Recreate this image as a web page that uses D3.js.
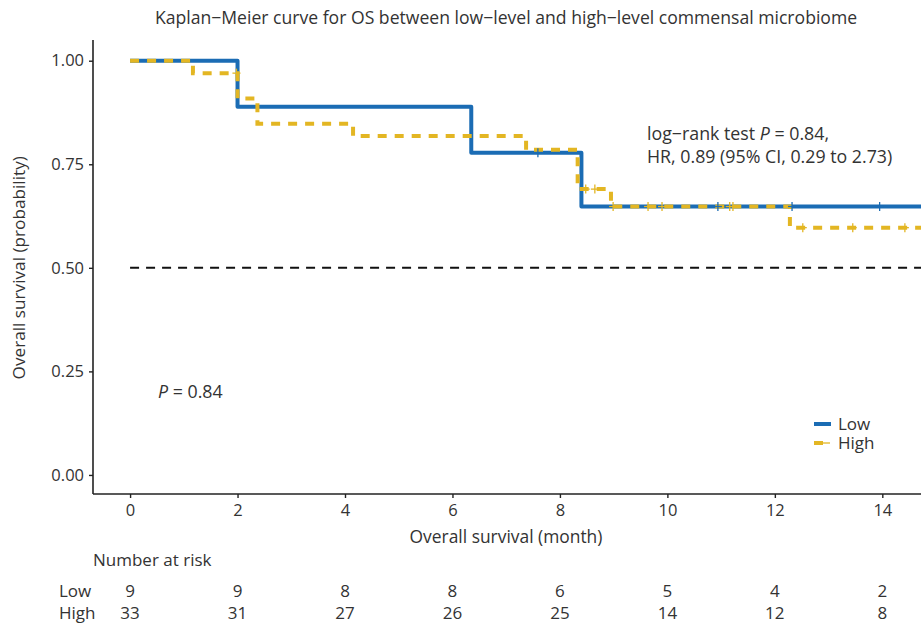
<!DOCTYPE html>
<html><head><meta charset="utf-8">
<script src="https://cdn.jsdelivr.net/npm/d3@7"></script>
<style>
body{margin:0;background:#fff;}
text{font-family:"Open Sans","Noto Sans",sans-serif;fill:#333;}
</style></head>
<body><svg id="c" width="921" height="629"></svg>
<script>
// ---- data ----
const xTicks = [0, 2, 4, 6, 8, 10, 12, 14];
const yTicks = [0, 0.25, 0.5, 0.75, 1.0];
const lowTimes = [0, 2.0, 6.35, 8.40];
const lowSurv = [1.0, 0.889, 0.778, 0.648];
const lowCensorTimes = [7.59, 10.94, 12.32, 13.95];
const highTimes = [0, 1.17, 2.0, 2.37, 4.15, 7.37, 8.33, 8.95, 12.28];
const highSurv = [1.0, 0.970, 0.909, 0.848, 0.818, 0.785, 0.690, 0.648, 0.597];
const highCensorTimes = [1.98, 8.48, 8.65, 8.99, 9.64, 9.90, 11.16, 11.22, 12.52, 13.45, 14.42];
const riskLow = [9, 9, 8, 8, 6, 5, 4, 2];
const riskHigh = [33, 31, 27, 26, 25, 14, 12, 8];
const endTime = 15;

const svg = d3.select("#c");
const L = 93, R = 921, T = 40, B = 494;
const x = d3.scaleLinear().domain([-0.69, 14.72]).range([L, R]);
const y = d3.scaleLinear().domain([-0.046, 1.05]).range([B, T]);

svg.append("defs").append("clipPath").attr("id","clip")
  .append("rect").attr("x", L).attr("y", T - 5).attr("width", R - L).attr("height", B - T + 5);

// title
svg.append("text").attr("x", 506).attr("y", 24).attr("text-anchor","middle")
  .attr("font-size", 17.6).text("Kaplan\u2212Meier curve for OS between low\u2212level and high\u2212level commensal microbiome");

// axes
const ax = svg.append("g").attr("transform", `translate(0,${B})`)
  .call(d3.axisBottom(x).tickValues(xTicks).tickSize(4).tickPadding(6));
const ay = svg.append("g").attr("transform", `translate(${L},0)`)
  .call(d3.axisLeft(y).tickValues(yTicks).tickSize(4).tickPadding(5).tickFormat(d3.format(".2f")));
[ax, ay].forEach(g => {
  g.select(".domain").attr("stroke", "#222").attr("stroke-width", 1.6);
  g.selectAll(".tick line").attr("stroke", "#222").attr("stroke-width", 1.4);
  g.selectAll(".tick text").attr("font-size", 16.5).attr("fill", "#333")
    .style("font-family", "'Open Sans','Noto Sans',sans-serif");
});
ax.select(".domain").attr("d", `M${L},0H${R}`);
ay.select(".domain").attr("d", `M0,${T}V${B}`);

// axis titles
svg.append("text").attr("x", 506).attr("y", 543).attr("text-anchor","middle")
  .attr("font-size", 17.4).text("Overall survival (month)");
svg.append("text").attr("transform", `translate(25,${(y(0)+y(1))/2}) rotate(-90)`)
  .attr("text-anchor","middle").attr("font-size", 17.2).text("Overall survival (probability)");

const plot = svg.append("g").attr("clip-path", "url(#clip)");

// median reference
plot.append("line").attr("x1", x(0)).attr("x2", R).attr("y1", y(0.5)).attr("y2", y(0.5))
  .attr("stroke", "#111").attr("stroke-width", 2).attr("stroke-dasharray", "9,7");

function stepPts(times, surv) {
  const pts = times.map((t, i) => [t, surv[i]]);
  pts.push([endTime, surv[surv.length - 1]]);
  return pts;
}
const line = d3.line().x(d => x(d[0])).y(d => y(d[1])).curve(d3.curveStepAfter);
function survAt(times, surv, t) {
  let s = surv[0];
  for (let i = 0; i < times.length; i++) if (times[i] <= t) s = surv[i];
  return s;
}

const blue = "#1b6cb4", gold = "#e3b623";
plot.append("path").datum(stepPts(lowTimes, lowSurv)).attr("d", line)
  .attr("fill","none").attr("stroke", blue).attr("stroke-width", 4).attr("stroke-linejoin","round");
plot.append("path").datum(stepPts(highTimes, highSurv)).attr("d", line)
  .attr("fill","none").attr("stroke", gold).attr("stroke-width", 4).attr("stroke-dasharray","9,8");

function censors(times, surv, ctimes, color) {
  const g = plot.append("g").attr("stroke", color).attr("stroke-width", 1.3);
  ctimes.forEach(t => {
    const cx = x(t), cy = y(survAt(times, surv, t));
    g.append("line").attr("x1", cx - 4).attr("x2", cx + 4).attr("y1", cy).attr("y2", cy);
    g.append("line").attr("x1", cx).attr("x2", cx).attr("y1", cy - 4.5).attr("y2", cy + 4.5);
  });
}
censors(lowTimes, lowSurv, lowCensorTimes, blue);
censors(highTimes, highSurv, highCensorTimes, gold);

// annotations
const a1 = svg.append("text").attr("x", 647).attr("y", 140).attr("font-size", 17.8);
a1.append("tspan").text("log\u2212rank test ");
a1.append("tspan").attr("font-style","italic").text("P");
a1.append("tspan").text(" = 0.84,");
svg.append("text").attr("x", 647).attr("y", 163).attr("font-size", 17.8)
  .text("HR, 0.89 (95% CI, 0.29 to 2.73)");
const a2 = svg.append("text").attr("x", 158).attr("y", 398).attr("font-size", 17.8);
a2.append("tspan").attr("font-style","italic").text("P");
a2.append("tspan").text(" = 0.84");

// legend
const leg = [["Low", blue, null], ["High", gold, "9,8"]];
leg.forEach((d, i) => {
  const ly = 424 + i * 19;
  svg.append("line").attr("x1", 814).attr("x2", 831).attr("y1", ly).attr("y2", ly)
    .attr("stroke", d[1]).attr("stroke-width", 4).attr("stroke-dasharray", d[2]);
  svg.append("line").attr("x1", 822).attr("x2", 830).attr("y1", ly).attr("y2", ly)
    .attr("stroke", d[1]).attr("stroke-width", 1.3);
  svg.append("text").attr("x", 838).attr("y", ly + 6).attr("font-size", 17).text(d[0]);
});

// risk table
svg.append("text").attr("x", 93).attr("y", 566).attr("font-size", 17).text("Number at risk");
[["Low", riskLow, 597], ["High", riskHigh, 619]].forEach(r => {
  svg.append("text").attr("x", 59).attr("y", r[2]).attr("font-size", 17).text(r[0]);
  r[1].forEach((v, i) => {
    svg.append("text").attr("x", x(xTicks[i])).attr("y", r[2]).attr("text-anchor","middle")
      .attr("font-size", 17).text(v);
  });
});
</script></body></html>
